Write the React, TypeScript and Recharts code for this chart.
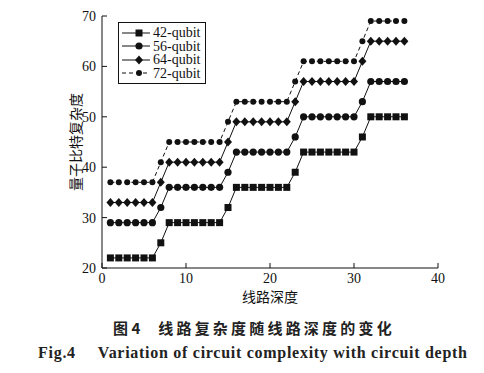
import { LineChart, Line, XAxis, YAxis } from 'recharts';

const depth = [1, 2, 3, 4, 5, 6, 7, 8, 9, 10, 11, 12, 13, 14, 15, 16, 17, 18, 19, 20, 21, 22, 23, 24, 25, 26, 27, 28, 29, 30, 31, 32, 33, 34, 35, 36];
const q42 = [22, 22, 22, 22, 22, 22, 25, 29, 29, 29, 29, 29, 29, 29, 32, 36, 36, 36, 36, 36, 36, 36, 39, 43, 43, 43, 43, 43, 43, 43, 46, 50, 50, 50, 50, 50];
const q56 = [29, 29, 29, 29, 29, 29, 32, 36, 36, 36, 36, 36, 36, 36, 39, 43, 43, 43, 43, 43, 43, 43, 46, 50, 50, 50, 50, 50, 50, 50, 53, 57, 57, 57, 57, 57];
const q64 = [33, 33, 33, 33, 33, 33, 37, 41, 41, 41, 41, 41, 41, 41, 45, 49, 49, 49, 49, 49, 49, 49, 53, 57, 57, 57, 57, 57, 57, 57, 61, 65, 65, 65, 65, 65];
const q72 = [37, 37, 37, 37, 37, 37, 41, 45, 45, 45, 45, 45, 45, 45, 49, 53, 53, 53, 53, 53, 53, 53, 57, 61, 61, 61, 61, 61, 61, 61, 65, 69, 69, 69, 69, 69];

const xTicks = [0, 10, 20, 30, 40];
const yTicks = [20, 30, 40, 50, 60, 70];
const seriesNames = ['42-qubit', '56-qubit', '64-qubit', '72-qubit'];

const data = depth.map((d, i) => ({ depth: d, q42: q42[i], q56: q56[i], q64: q64[i], q72: q72[i] }));

const INK = '#111';
const serif = '"Liberation Serif", "Times New Roman", serif';
const cjk = '"Noto Sans CJK SC", sans-serif';

const markerShape = (kind: string, cx: number, cy: number, key?: string) => {
  if (kind === 'square') return <rect key={key} x={cx - 3.5} y={cy - 3.5} width={7} height={7} fill={INK} />;
  if (kind === 'circle') return <circle key={key} cx={cx} cy={cy} r={3.6} fill={INK} />;
  if (kind === 'diamond')
    return <polygon key={key} points={`${cx},${cy - 4.5} ${cx + 4},${cy} ${cx},${cy + 4.5} ${cx - 4},${cy}`} fill={INK} />;
  return <circle key={key} cx={cx} cy={cy} r={3} fill={INK} />;
};

const dotFor = (kind: string) => (props: any) => {
  const { cx, cy, index } = props;
  return markerShape(kind, cx, cy, `${kind}-${index}`);
};

const kinds = ['square', 'circle', 'diamond', 'small'];

function LegendBox() {
  return (
    <div style={{ position: 'absolute', left: 118, top: 22, border: '1px solid #111', width: 86, padding: '3px 0', background: '#fff' }}>
      {seriesNames.map((name, i) => (
        <div key={name} style={{ display: 'flex', alignItems: 'center', height: 13.5 }}>
          <svg width={30} height={12} style={{ marginLeft: 3 }}>
            <line x1={0} y1={6} x2={28} y2={6} stroke={INK} strokeWidth={1} strokeDasharray={i === 3 ? '4 3' : undefined} />
            {markerShape(kinds[i], 17, 6)}
          </svg>
          <span style={{ fontFamily: serif, fontSize: 14, color: INK, marginLeft: 1, lineHeight: '13px' }}>{name}</span>
        </div>
      ))}
    </div>
  );
}

export default function App() {
  return (
    <div style={{ position: 'absolute', left: 0, top: 0, width: 484, height: 373, background: '#fff' }}>
      <LineChart width={484} height={310} data={data} margin={{ top: 16, right: 46, bottom: 12, left: 52 }}>
        <XAxis
          dataKey="depth"
          type="number"
          domain={[0, 40]}
          ticks={xTicks}
          tickSize={-5}
          tickMargin={10}
          height={30}
          stroke={INK}
          tick={{ fill: INK, fontFamily: serif, fontSize: 14 }}
          label={{ value: '线路深度', position: 'insideBottom', offset: -4, fill: INK, fontFamily: cjk, fontSize: 14 }}
        />
        <YAxis
          type="number"
          domain={[20, 70]}
          ticks={yTicks}
          tickSize={-5}
          tickMargin={11}
          width={50}
          stroke={INK}
          tick={{ fill: INK, fontFamily: serif, fontSize: 14 }}
          label={{ value: '量子比特复杂度', angle: -90, position: 'insideLeft', offset: 24, fill: INK, fontFamily: cjk, fontSize: 14, style: { textAnchor: 'middle', fill: INK } }}
        />
        <Line dataKey="q42" name={seriesNames[0]} stroke={INK} strokeWidth={1} dot={dotFor('square')} isAnimationActive={false} />
        <Line dataKey="q56" name={seriesNames[1]} stroke={INK} strokeWidth={1} dot={dotFor('circle')} isAnimationActive={false} />
        <Line dataKey="q64" name={seriesNames[2]} stroke={INK} strokeWidth={1} dot={dotFor('diamond')} isAnimationActive={false} />
        <Line dataKey="q72" name={seriesNames[3]} stroke={INK} strokeWidth={1} strokeDasharray="4 3" dot={dotFor('small')} isAnimationActive={false} />
      </LineChart>
      <LegendBox />
      <div style={{ position: 'absolute', left: 113, top: 317, fontFamily: cjk, fontSize: 15, fontWeight: 'bold', color: '#222', whiteSpace: 'nowrap' }}>
        <span>图 4</span>
        <span style={{ marginLeft: 18, letterSpacing: 3.2 }}>线路复杂度随线路深度的变化</span>
      </div>
      <div style={{ position: 'absolute', left: 38, top: 344, fontFamily: serif, fontSize: 16, fontWeight: 'bold', color: '#222', whiteSpace: 'nowrap', letterSpacing: 0.72 }}>
        <span>Fig.4</span>
        <span style={{ marginLeft: 22 }}>Variation of circuit complexity with circuit depth</span>
      </div>
    </div>
  );
}
